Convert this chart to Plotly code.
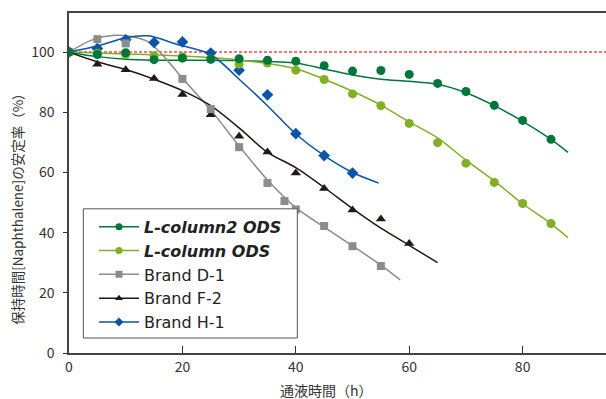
import plotly.graph_objects as go

# ---- data ----
names = ["L-column2 ODS", "L-column ODS", "Brand D-1", "Brand F-2", "Brand H-1"]

lc2_t = [0, 5, 10, 15, 20, 25, 30, 35, 40, 45, 50, 55, 60, 65, 70, 75, 80, 85]
lc2_v = [100, 99.2, 99.8, 97.5, 98.0, 97.6, 97.8, 97.3, 97.0, 95.5, 93.7, 93.9, 92.6, 89.6, 86.9, 82.3, 77.3, 71.0]
lc_t = [0, 5, 10, 15, 20, 25, 30, 35, 40, 45, 50, 55, 60, 65, 70, 75, 80, 85]
lc_v = [100, 99.6, 99.2, 98.8, 98.5, 97.7, 96.0, 96.4, 94.0, 90.9, 86.1, 82.2, 76.3, 69.9, 63.1, 56.7, 49.7, 43.0]
d1_t = [0, 5, 10, 20, 25, 30, 35, 38, 40, 45, 50, 55]
d1_v = [100, 104.3, 102.9, 91.1, 81.1, 68.4, 56.5, 50.5, 47.7, 42.2, 35.5, 28.9]
f2_t = [0, 5, 10, 15, 20, 25, 30, 35, 40, 45, 50, 55, 60]
f2_v = [100, 96.0, 94.1, 91.2, 85.9, 79.2, 72.0, 66.8, 59.8, 54.7, 47.5, 44.5, 36.4]
h1_t = [0, 5, 10, 15, 20, 25, 30, 35, 40, 45, 50]
h1_v = [100, 101.2, 104.1, 103.2, 103.4, 99.7, 94.0, 85.8, 72.9, 65.6, 59.8]

# trend (fitted) curves
lc2_ft = [0, 5, 10, 15, 20, 30, 40, 45, 50, 55, 60, 65, 70, 75, 80, 85, 88]
lc2_fv = [100, 98.5, 97.6, 97.3, 97.3, 97.2, 96.4, 94.4, 92.4, 91.0, 90.3, 89.3, 86.5, 82.2, 77.0, 71.0, 66.7]
lc_ft = [0, 10, 20, 30, 40, 45, 50, 55, 60, 65, 70, 75, 80, 85, 88]
lc_fv = [100, 99.4, 98.7, 97.4, 94.5, 91.0, 87.0, 82.4, 76.8, 71.5, 64.1, 57.2, 49.6, 43.0, 38.3]
d1_ft = [0, 4, 8, 11, 14, 17, 20, 25, 30, 35, 40, 45, 50, 55, 58.4]
d1_fv = [100, 104.0, 105.6, 105.2, 103.4, 98.0, 91.3, 80.8, 68.8, 57.5, 48.3, 41.8, 35.6, 29.2, 24.3]
f2_ft = [0, 5, 10, 15, 20, 25, 30, 35, 40, 45, 50, 55, 60, 65]
f2_fv = [100, 96.8, 94.2, 91.0, 87.2, 82.2, 74.8, 66.7, 61.6, 55.0, 48.0, 41.5, 35.8, 30.0]
h1_ft = [0, 5, 10, 14, 19, 25, 30, 35, 40, 45, 50, 54.6]
h1_fv = [100, 102.0, 104.8, 105.4, 102.6, 99.2, 91.0, 82.2, 72.8, 65.6, 60.0, 56.5]

x_ticks = [0, 20, 40, 60, 80]
y_ticks = [0, 20, 40, 60, 80, 100]
ref_level = 100

colors = ["#00773A", "#80B024", "#8C8C8C", "#231815", "#0A55A8"]
symbols = ["circle", "circle", "square", "triangle-up", "diamond"]
msizes = [9, 9, 8, 9, 9]

FONT = "Noto Sans CJK JP"
LFONT = "DejaVu Sans"

series = [
    (lc2_t, lc2_v, lc2_ft, lc2_fv),
    (lc_t, lc_v, lc_ft, lc_fv),
    (d1_t, d1_v, d1_ft, d1_fv),
    (f2_t, f2_v, f2_ft, f2_fv),
    (h1_t, h1_v, h1_ft, h1_fv),
]

# plot-area geometry in pixels (for paper-coordinate placement)
L, R, T, B = 69, 606, 13, 353.3
PW, PH = R - L, B - T


def px(xp):
    return (xp - L) / PW


def py(yp):
    return (B - yp) / PH


fig = go.Figure()

# trend lines
for i, (t, v, ft, fv) in enumerate(series):
    fig.add_trace(go.Scatter(x=ft, y=fv, mode="lines",
                             line=dict(color=colors[i], width=1.5, shape="spline", smoothing=0.8),
                             showlegend=False, hoverinfo="skip"))

# markers (draw in reverse so L-column2 is on top)
for i in reversed(range(len(series))):
    t, v, ft, fv = series[i]
    fig.add_trace(go.Scatter(x=t, y=v, mode="markers",
                             marker=dict(color=colors[i], symbol=symbols[i], size=msizes[i], line=dict(width=0)),
                             showlegend=False))

# legend entries
for i, name in enumerate(names):
    label = "<b><i>%s</i></b>" % name if i < 2 else name
    fig.add_trace(go.Scatter(x=[None], y=[None], mode="lines+markers", name=label,
                             line=dict(color=colors[i], width=1.5),
                             marker=dict(color=colors[i], symbol=symbols[i], size=7)))

# red dashed reference line
fig.add_shape(type="line", xref="paper", x0=0, x1=1, yref="y", y0=ref_level, y1=ref_level,
              line=dict(color="#F07878", width=2, dash="3px,2px"), layer="below")

# legend frame
fig.add_shape(type="rect", xref="paper", yref="paper",
              x0=px(83.3), x1=px(297.3), y0=py(338.3), y1=py(209),
              line=dict(color="#555555", width=1), fillcolor="white", layer="above")

fig.update_layout(
    width=606, height=399,
    margin=dict(l=L, r=0, t=T, b=399 - 353),
    paper_bgcolor="white", plot_bgcolor="white",
    font=dict(family=FONT, size=14, color="#333333"),
    showlegend=True,
    legend=dict(x=px(94), y=py(210), xanchor="left", yanchor="top",
                borderwidth=0, bgcolor="rgba(0,0,0,0)",
                font=dict(family=LFONT, size=16, color="#222222"),
                tracegroupgap=0, itemwidth=40),
    xaxis=dict(range=[0, 94.7], tickvals=x_ticks, ticks="inside", ticklen=7, tickcolor="#333",
               showline=True, linecolor="#444444", linewidth=1.5, mirror=True,
               showgrid=False, zeroline=False, tickfont=dict(size=14, color="#333")),
    yaxis=dict(range=[0, 113], tickvals=y_ticks, ticks="outside", ticklen=4, tickcolor="#333",
               showline=True, linecolor="#444444", linewidth=1.5, mirror=False,
               showgrid=False, zeroline=False, tickfont=dict(size=14, color="#333"), ticklabelstandoff=6),
    annotations=[
        dict(text="通液時間（h）", xref="paper", yref="paper", x=px(326), y=py(390),
             xanchor="center", yanchor="middle", showarrow=False, font=dict(size=14, color="#333")),
        dict(text="保持時間[Naphthalene]の安定率（%）", xref="paper", yref="paper", x=px(17),
             y=py(206), xanchor="center", yanchor="middle", textangle=-90, showarrow=False,
             font=dict(size=13.5, color="#333")),
    ],
)

fig.write_html("out.html")
